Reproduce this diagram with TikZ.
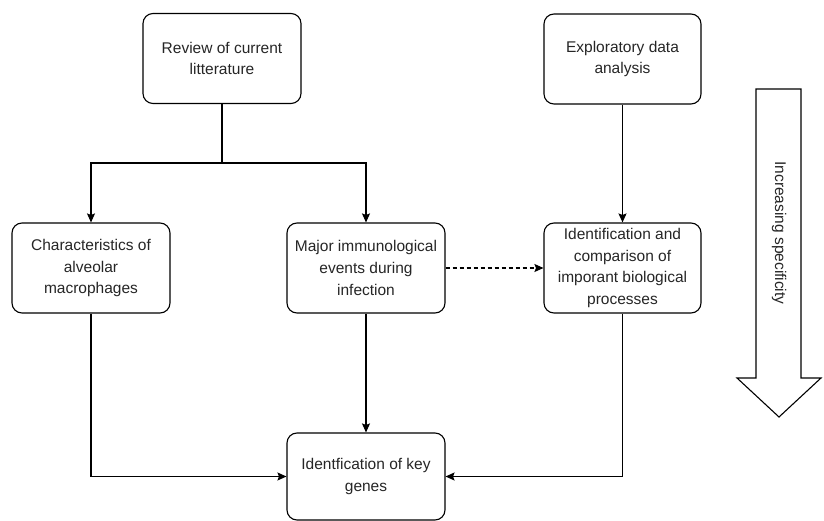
\documentclass[tikz,border=0pt]{standalone}
\usepackage{fontspec}
\setmainfont{Liberation Sans}
\usetikzlibrary{arrows.meta}
\begin{document}
\begin{tikzpicture}[x=1pt,y=-1pt,
  box/.style={draw=black,line width=1.1pt,rounded corners=10pt,fill=white,
    minimum width=158pt,minimum height=90pt,align=center,inner sep=2pt,
    font=\fontsize{15.5}{21.8}\selectfont,text=black!85},
  link/.style={line width=1.1pt,-{Stealth[length=9pt,width=8pt,inset=1.5pt]}},
  line/.style={line width=1.1pt}]
\useasboundingbox (0,0) rectangle (824,521);
\fill[white] (0,0) rectangle (824,521);

% boxes
\node[box] (rev) at (222,58.5) {Review of current\\litterature};
\node[box,minimum width=157pt] (eda) at (622.5,59) {Exploratory data\\analysis};
\node[box] (char) at (91,268) {Characteristics of\\alveolar\\macrophages};
\node[box] (major) at (366,268) {Major immunological\\events during\\infection};
\node[box,minimum width=157pt] (ident) at (622.5,268) {Identification and\\comparison of\\imporant biological\\processes};
\node[box,minimum height=87pt] (genes) at (366,476.5) {Identfication of key\\genes};

% connectors
\coordinate (split) at (222,163);
\draw[line] (rev.south) -- (split);
\draw[link] (split) -| (char.north);
\draw[link] (split) -| (major.north);
\draw[link] (eda.south) -- (ident.north);
\draw[link,dashed,dash pattern=on 4pt off 3pt] (major.east) -- (ident.west);
\draw[link] (major.south) -- (genes.north);
\draw[link] (char.south) |- (genes.west);
\draw[link] (ident.south) |- (genes.east);

% broad downward arrow
\draw[line width=1.1pt,line join=miter,fill=white]
  (756,89) -- (801,89) -- (801,378) -- (821,378) -- (779,417) -- (737,378) -- (756,378) -- cycle;
\node[rotate=-90,font=\fontsize{15.5}{21.8}\selectfont,text=black!85] (spec) at (779,233) {Increasing specificity};
\end{tikzpicture}
\end{document}
